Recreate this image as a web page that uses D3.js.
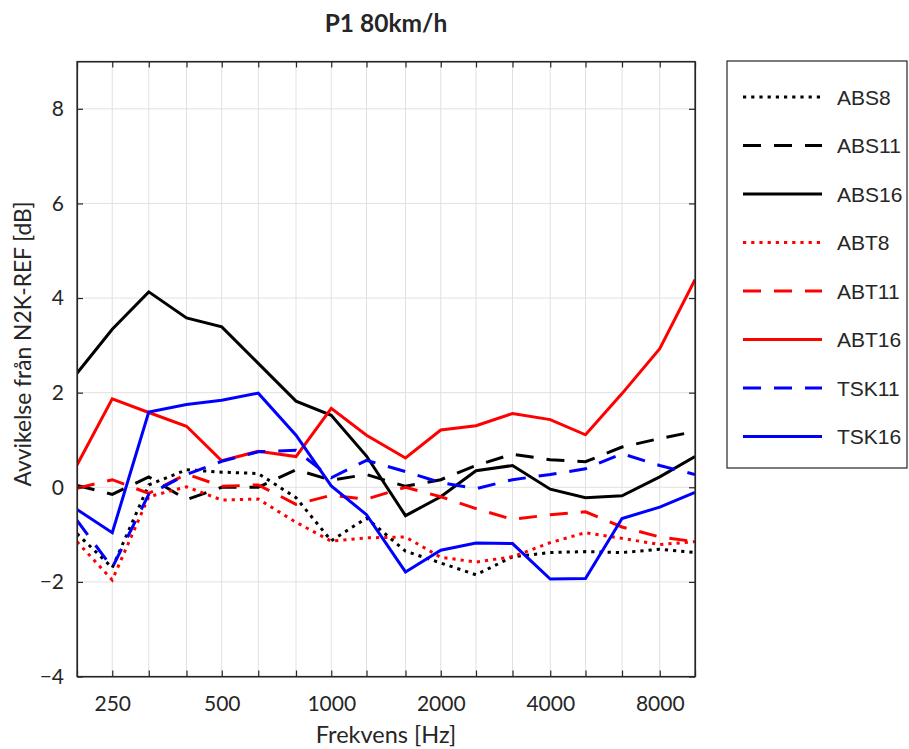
<!DOCTYPE html>
<html>
<head>
<meta charset="utf-8">
<script src="https://cdn.jsdelivr.net/npm/d3@7"></script>
<style>
  body { margin: 0; background: #fff; }
  text { fill: #262626; }
</style>
</head>
<body>
<script>
// third-octave bands
var freqs = [200, 250, 315, 400, 500, 630, 800, 1000, 1250, 1600, 2000, 2500, 3150, 4000, 5000, 6300, 8000, 10000]
var xTickLabels = [250, 500, 1000, 2000, 4000, 8000]
var yTicks = [-4, -2, 0, 2, 4, 6, 8]

var abs8  = [-0.98, -1.70, 0.05, 0.37, 0.32, 0.29, -0.22, -1.13, -0.65, -1.35, -1.60, -1.85, -1.47, -1.38, -1.36, -1.38, -1.31, -1.38]
var abs11 = [0.04, -0.15, 0.22, -0.26, 0.00, 0.00, 0.37, 0.15, 0.27, 0.02, 0.16, 0.46, 0.70, 0.58, 0.54, 0.85, 1.03, 1.18]
var abs16 = [2.41, 3.34, 4.13, 3.58, 3.39, 2.62, 1.82, 1.52, 0.66, -0.60, -0.20, 0.35, 0.46, -0.04, -0.22, -0.18, 0.22, 0.65]
var abt8  = [-1.15, -1.96, -0.20, 0.01, -0.27, -0.25, -0.74, -1.14, -1.07, -1.05, -1.48, -1.58, -1.47, -1.17, -0.96, -1.08, -1.21, -1.15]
var abt11 = [-0.02, 0.16, -0.13, 0.28, 0.02, 0.05, -0.36, -0.17, -0.25, 0.00, -0.20, -0.45, -0.68, -0.58, -0.52, -0.84, -1.05, -1.15]
var abt16 = [0.47, 1.87, 1.58, 1.29, 0.56, 0.76, 0.65, 1.67, 1.10, 0.62, 1.21, 1.30, 1.56, 1.43, 1.11, 1.98, 2.93, 4.39]
var tsk11 = [-0.70, -1.70, -0.15, 0.27, 0.55, 0.75, 0.78, 0.20, 0.57, 0.33, 0.10, -0.03, 0.16, 0.27, 0.39, 0.71, 0.46, 0.27]
var tsk16 = [-0.47, -0.96, 1.59, 1.75, 1.84, 1.99, 1.10, 0.03, -0.58, -1.79, -1.33, -1.18, -1.19, -1.94, -1.93, -0.66, -0.42, -0.11]

var seriesNames = ["ABS8", "ABS11", "ABS16", "ABT8", "ABT11", "ABT16", "TSK11", "TSK16"]
var seriesValues = [abs8, abs11, abs16, abt8, abt11, abt16, tsk11, tsk16]
var seriesColors = ["#000", "#000", "#000", "#ff0000", "#ff0000", "#ff0000", "#0000ff", "#0000ff"]
var seriesDash = ["dot", "dash", "solid", "dot", "dash", "solid", "dash", "solid"]

var setup = function()
{
    var screen = {width: 909, height: 749}
    var margins = {top: 61.5, left: 77, right: 214, bottom: 72.5}
    var width = screen.width - margins.left - margins.right
    var height = screen.height - margins.top - margins.bottom

    var xScale = d3.scaleLog()
        .domain([200, 10000])
        .range([0, width])

    var yScale = d3.scaleLinear()
        .domain([-4, 9])
        .range([height, 0])

    var dashes = {dot: "3.2,5", dash: "18,13", solid: null}
    var axisColor = "#262626"
    var labelFont = "Lato, 'Open Sans', sans-serif"

    var svg = d3.select("body")
        .append("svg")
        .attr("width", screen.width)
        .attr("height", screen.height)

    var plot = svg.append("g")
        .attr("transform", "translate(" + margins.left + "," + margins.top + ")")

    // grid
    plot.append("g")
        .selectAll("line")
        .data(freqs.slice(1, -1))
        .enter()
        .append("line")
        .attr("x1", function(d) { return xScale(d) })
        .attr("x2", function(d) { return xScale(d) })
        .attr("y1", 0)
        .attr("y2", height)
        .attr("stroke", "#e1e1e1")
        .attr("stroke-width", 1)

    plot.append("g")
        .selectAll("line")
        .data(yTicks.slice(1))
        .enter()
        .append("line")
        .attr("x1", 0)
        .attr("x2", width)
        .attr("y1", function(d) { return yScale(d) })
        .attr("y2", function(d) { return yScale(d) })
        .attr("stroke", "#e1e1e1")
        .attr("stroke-width", 1)

    // data lines
    plot.append("clipPath")
        .attr("id", "clip")
        .append("rect")
        .attr("width", width)
        .attr("height", height)

    var line = d3.line()
        .x(function(d, i) { return xScale(freqs[i]) })
        .y(function(d) { return yScale(d) })

    plot.append("g")
        .attr("clip-path", "url(#clip)")
        .selectAll("path")
        .data(seriesValues)
        .enter()
        .append("path")
        .attr("d", function(d) { return line(d) })
        .attr("fill", "none")
        .attr("stroke", function(d, i) { return seriesColors[i] })
        .attr("stroke-width", 3)
        .attr("stroke-dasharray", function(d, i) { return dashes[seriesDash[i]] })

    // axes, MATLAB style box with inward ticks
    var xAxis = d3.axisBottom(xScale)
        .tickValues(freqs)
        .tickSize(-6)
        .tickSizeOuter(0)
        .tickPadding(20)
        .tickFormat(function(d) { return xTickLabels.indexOf(d) >= 0 ? d : "" })

    var xTop = d3.axisTop(xScale)
        .tickValues(freqs)
        .tickSize(-6)
        .tickSizeOuter(0)
        .tickFormat("")

    var yAxis = d3.axisLeft(yScale)
        .tickValues(yTicks)
        .tickSize(-6)
        .tickSizeOuter(0)
        .tickPadding(13)

    var yRight = d3.axisRight(yScale)
        .tickValues(yTicks)
        .tickSize(-6)
        .tickSizeOuter(0)
        .tickFormat("")

    plot.append("g").attr("id", "xAxis")
        .attr("transform", "translate(0," + height + ")")
        .call(xAxis)
    plot.append("g").attr("transform", "translate(0,0)").call(xTop)
    plot.append("g").attr("id", "yAxis").call(yAxis)
    plot.append("g").attr("transform", "translate(" + width + ",0)").call(yRight)

    plot.selectAll(".domain, .tick line")
        .attr("stroke", axisColor)
        .attr("stroke-width", 1.2)
    plot.selectAll(".tick text")
        .attr("fill", axisColor)
        .style("font-family", labelFont)
        .style("font-size", "21px")

    plot.append("rect")
        .attr("width", width)
        .attr("height", height)
        .attr("fill", "none")
        .attr("stroke", axisColor)
        .attr("stroke-width", 1.2)

    // titles
    svg.append("text")
        .attr("x", margins.left + width / 2)
        .attr("y", 32)
        .attr("text-anchor", "middle")
        .style("font-family", labelFont)
        .style("font-weight", "bold")
        .style("font-size", "24.5px")
        .text("P1 80km/h")

    svg.append("text")
        .attr("x", margins.left + width / 2)
        .attr("y", 743)
        .attr("text-anchor", "middle")
        .style("font-family", labelFont)
        .style("font-size", "23.5px")
        .text("Frekvens [Hz]")

    // the reference places the y label a bit above the plot middle
    svg.append("text")
        .attr("transform", "translate(31,344) rotate(-90)")
        .attr("text-anchor", "middle")
        .style("font-family", labelFont)
        .style("font-size", "22.8px")
        .text("Avvikelse från N2K-REF [dB]")

    // legend
    var legend = svg.append("g").attr("id", "legend")
    legend.append("rect")
        .attr("x", 727)
        .attr("y", 61)
        .attr("width", 180)
        .attr("height", 407)
        .attr("fill", "#fff")
        .attr("stroke", axisColor)
        .attr("stroke-width", 1.2)

    var gs = legend.selectAll("g")
        .data(seriesNames)
        .enter()
        .append("g")
        .attr("transform", function(d, i) { return "translate(743," + (97 + i * 48.5) + ")" })

    gs.append("line")
        .attr("x1", 0)
        .attr("x2", 79)
        .attr("stroke", function(d, i) { return seriesColors[i] })
        .attr("stroke-width", 3)
        .attr("stroke-dasharray", function(d, i) { return dashes[seriesDash[i]] })

    gs.append("text")
        .attr("x", 94)
        .attr("dy", "0.36em")
        .style("font-family", "'Liberation Sans', Arial, sans-serif")
        .style("font-size", "21px")
        .attr("fill", "#000")
        .text(function(d) { return d })
}

setup()
</script>
</body>
</html>
